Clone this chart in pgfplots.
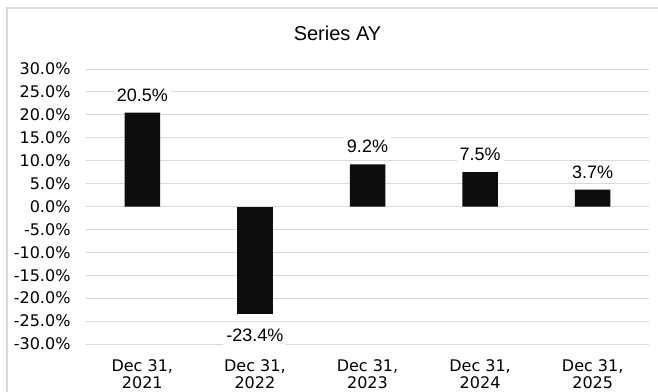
\documentclass[border=0pt]{standalone}
\usepackage{pgfplots}
\pgfplotsset{compat=1.18}
\usepackage{fontspec}
\setmainfont{Liberation Sans}
\newfontfamily\verd{DejaVu Sans}
\definecolor{gridc}{HTML}{D9D9D9}
\definecolor{barc}{HTML}{0D0D0D}
\begin{document}
\begin{tikzpicture}[x=1pt,y=1pt]
\fill[white] (0,0) rectangle (658,391);
\draw[gridc, line width=1.2pt] (7,-10) -- (7,383) -- (670,383);
\node[font=\fontsize{20}{24}\selectfont] at (337.5,358) {Series AY};
\begin{axis}[
  at={(86pt,47pt)}, anchor=south west,
  scale only axis, width=563pt, height=275pt,
  xmin=-0.5, xmax=4.5, ymin=-30, ymax=30,
  ytick={-30,-25,...,30},
  xtick={0,1,2,3,4},
  xticklabels={{Dec 31,\\2021},{Dec 31,\\2022},{Dec 31,\\2023},{Dec 31,\\2024},{Dec 31,\\2025}},
  xticklabel style={align=center, font=\verd\fontsize{16}{17}\selectfont, yshift=-8pt},
  yticklabel={\pgfmathprintnumber[fixed,fixed zerofill,precision=1]{\tick}\%},
  yticklabel style={font=\verd\fontsize{16}{18}\selectfont, xshift=-12pt},
  /pgf/number format/assume math mode=true,
  axis line style={draw=none},
  major tick style={draw=none},
  ymajorgrids, grid style={gridc, line width=1pt},
  ybar, bar width=35.5pt, bar shift=0pt,
  clip=false,
]
\addplot[fill=barc, draw=none, nodes near coords,
  nodes near coords style={font=\fontsize{18}{20}\selectfont, fill=white, inner sep=3pt, anchor=south, yshift=8pt},
  point meta=y,
  nodes near coords={\pgfmathprintnumber[fixed,fixed zerofill,precision=1]{\pgfplotspointmeta}\%}]
  coordinates {(0,20.5) (2,9.2) (3,7.5) (4,3.7)};
\addplot[fill=barc, draw=none, nodes near coords,
  nodes near coords style={font=\fontsize{18}{20}\selectfont, fill=white, inner sep=3pt, anchor=north, yshift=-12pt},
  point meta=y,
  nodes near coords={\pgfmathprintnumber[fixed,fixed zerofill,precision=1]{\pgfplotspointmeta}\%}]
  coordinates {(1,-23.4)};
\end{axis}
\pgfresetboundingbox
\useasboundingbox (0,0) rectangle (658,391);
\end{tikzpicture}
\end{document}
